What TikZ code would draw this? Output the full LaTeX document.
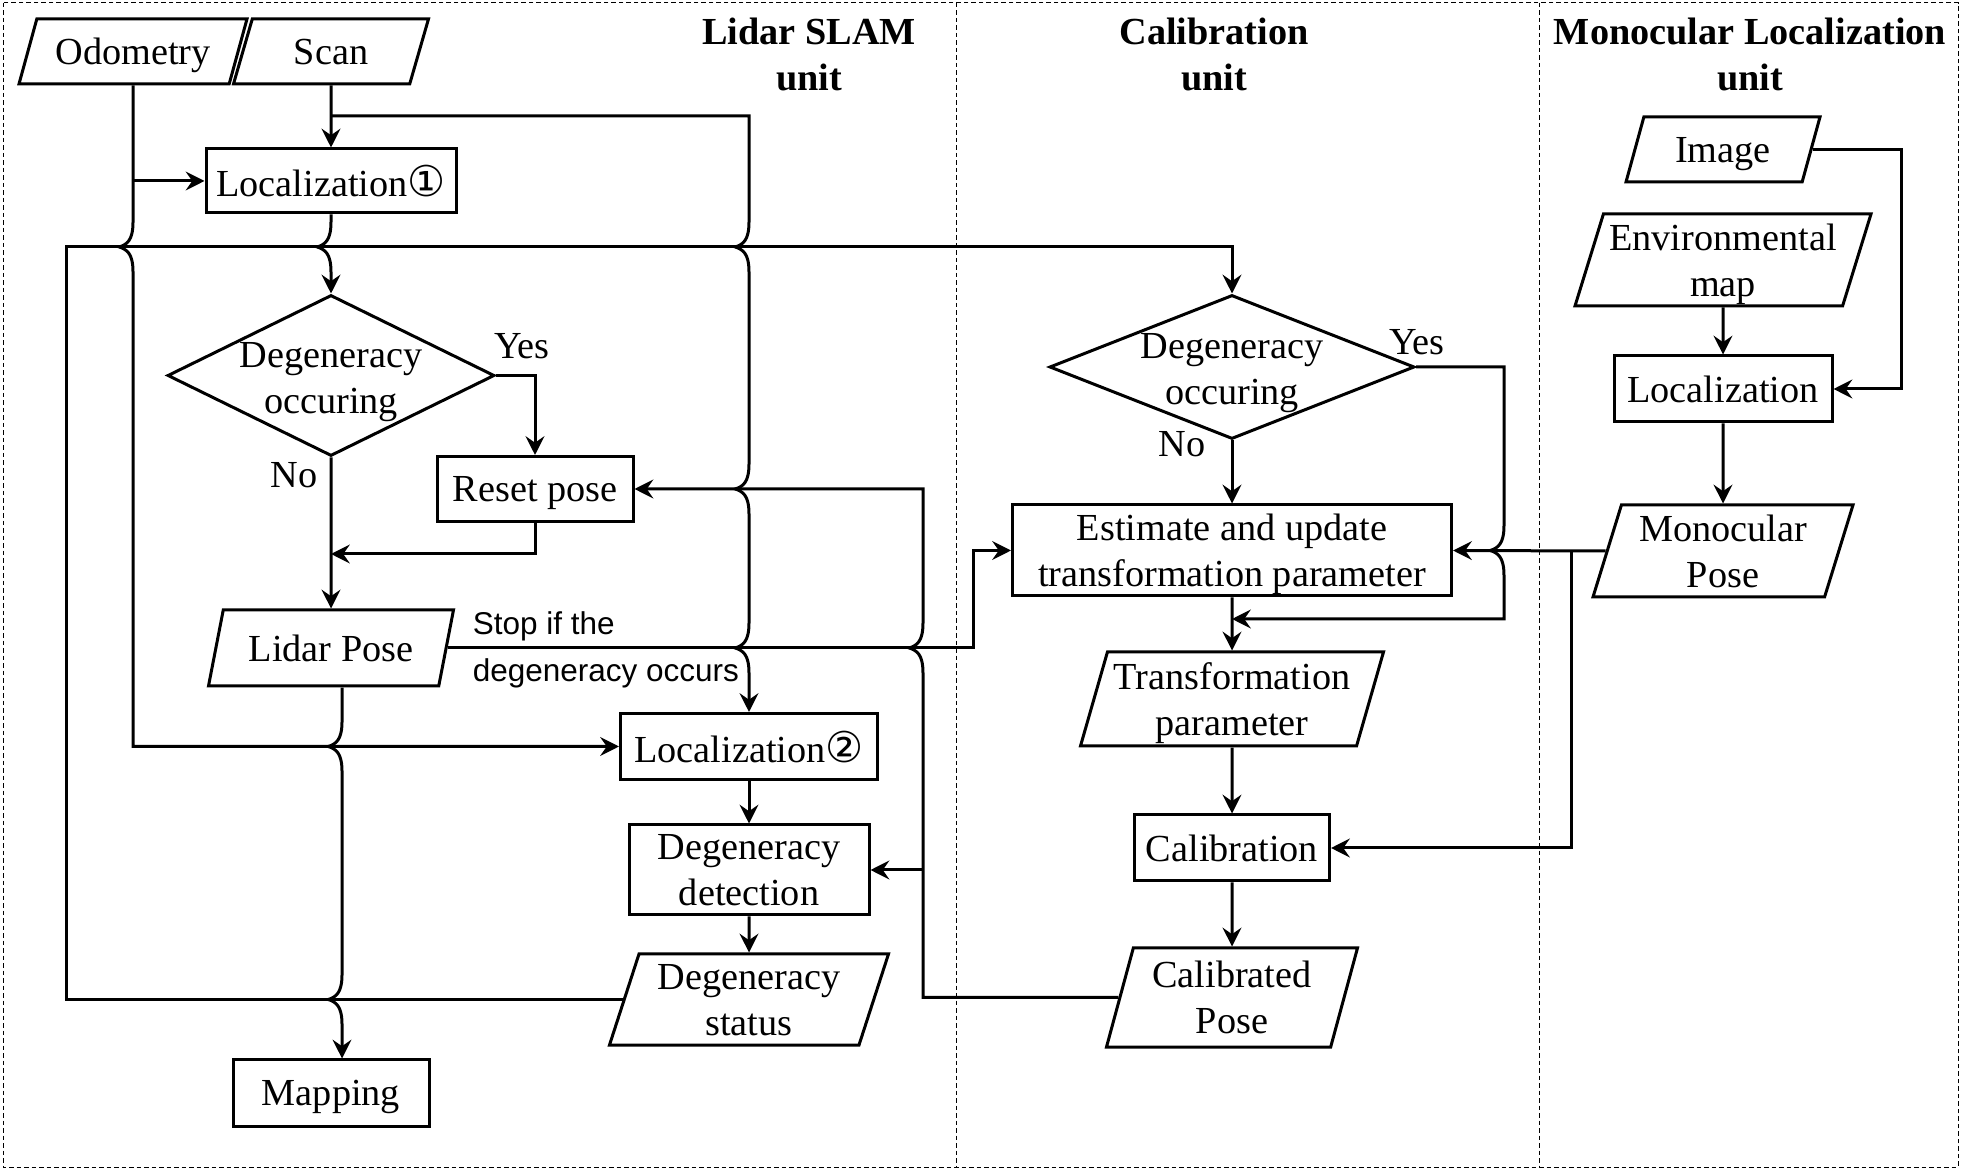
\documentclass[tikz,border=0pt]{standalone}
\usepackage{fontspec}
\setmainfont{Liberation Serif}
\newfontfamily\notefont{Liberation Sans}
\newfontfamily\circfont{DejaVu Sans}
\usetikzlibrary{shapes.geometric,arrows.meta}

\begin{document}
\begin{tikzpicture}[x=0.4pt,y=-0.4pt,
  every node/.style={font=\fontsize{15.3}{18.4}\selectfont},
  proc/.style={draw,rectangle,line width=1.2pt,inner sep=2pt,align=center,text depth=0pt},
  io/.style 2 args={draw,trapezium,trapezium left angle=#1,trapezium right angle=#2,
    trapezium stretches body,line width=1.2pt,inner xsep=0pt,inner ysep=2pt,align=center,text depth=0pt},
  dec/.style={draw,diamond,line width=1.2pt,inner sep=0pt},
  ttl/.style={align=center,font=\bfseries\fontsize{15.3}{18.4}\selectfont},
  note/.style={align=left,font=\notefont\fontsize{12.6}{18.8}\selectfont},
  flow/.style={line width=1.2pt,-{Stealth[length=7.5pt,width=7.5pt,inset=2.6pt]}},
  sep/.style={line width=0.4pt,dash pattern=on 1.8pt off 1.2pt}]
% line hops: a vertical line jumps over a horizontal one
\def\hop#1{-- ([yshift=10pt]#1) .. controls ([yshift=2.5pt]#1) and ([xshift=-2.5pt,yshift=1pt]#1) .. ([xshift=-5.5pt]#1)
  .. controls ([xshift=-2.5pt,yshift=-1pt]#1) and ([yshift=-2.5pt]#1) .. ([yshift=-10pt]#1)}
\def\hopup#1{-- ([yshift=-10pt]#1) .. controls ([yshift=-2.5pt]#1) and ([xshift=-2.5pt,yshift=-1pt]#1) .. ([xshift=-5.5pt]#1)
  .. controls ([xshift=-2.5pt,yshift=1pt]#1) and ([yshift=2.5pt]#1) .. ([yshift=10pt]#1)}
\def\circnum#1{{\circfont\fontsize{17}{18.4}\selectfont #1}}
\useasboundingbox (0,0) rectangle (1961,1170);
\draw[sep] (3,3) rectangle (1958,1167);
\draw[sep] (956,3) -- (956,1167);
\draw[sep] (1539,3) -- (1539,1167);

\node[ttl] (t1) at (809,54) {Lidar SLAM\\unit};
\node[ttl] (t2) at (1214,54) {Calibration\\unit};
\node[ttl] (t3) at (1750,54) {Monocular Localization\\unit};

\node[io={64}{116},minimum width=91.2pt,minimum height=26pt] (odo) at (133,51.5) {Odometry};
\node[io={62}{118},minimum width=78pt,minimum height=26pt] (scan) at (331,51.5) {Scan};
\node[proc,minimum width=100pt,minimum height=25.6pt] (loc1) at (331,181) {Localization\circnum{①}};
\node[dec,minimum width=130.8pt,minimum height=64.4pt,
  label={[align=center,yshift=-2.6pt]center:{Degeneracy\\occuring}}] (d1) at (331,375.5) {};
\node[proc,minimum width=78.4pt,minimum height=26pt] (reset) at (535,489) {Reset pose};
\node[io={68}{112},minimum width=98pt,minimum height=30.4pt] (lp) at (331,648) {Lidar Pose};
\node[proc,minimum width=102.8pt,minimum height=26.4pt] (loc2) at (749,746.5) {Localization\circnum{②}};
\node[proc,minimum width=96pt,minimum height=36pt] (dd) at (749,870) {Degeneracy\\detection};
\node[io={70}{110},minimum width=111.6pt,minimum height=36.4pt] (status) at (749,999.5) {Degeneracy\\status};
\node[proc,minimum width=78.4pt,minimum height=26.4pt] (map) at (331,1093) {Mapping};

\node[dec,minimum width=146pt,minimum height=57.6pt,
  label={[align=center,yshift=-2.6pt]center:{Degeneracy\\occuring}}] (d2) at (1232,367) {};
\node[proc,minimum width=175.6pt,minimum height=36.4pt] (est) at (1232,550.5) {Estimate and update\\transformation parameter};
\node[io={72}{108},minimum width=121.2pt,minimum height=37.6pt] (trans) at (1232,699) {Transformation\\parameter};
\node[proc,minimum width=78pt,minimum height=26.4pt] (calib) at (1232,848) {Calibration};
\node[io={72}{108},minimum width=100.4pt,minimum height=39.6pt] (cp) at (1232,997.5) {Calibrated\\Pose};

\node[io={63}{117},minimum width=77.6pt,minimum height=26pt] (img) at (1723,149.5) {Image};
\node[io={71}{109},minimum width=118.4pt,minimum height=36.8pt] (env) at (1723,260) {Environmental\\map};
\node[proc,minimum width=87.2pt,minimum height=26.4pt] (mloc) at (1723,389) {Localization};
\node[io={71}{109},minimum width=104pt,minimum height=36.8pt] (mpose) at (1723,551) {Monocular\\Pose};

\node (yes1) at (522,346) {Yes};
\node (no1) at (294,475) {No};
\node (yes2) at (1417,342) {Yes};
\node (no2) at (1182,444) {No};
\node[note,anchor=west] (stop) at (464,650) {Stop if the\\degeneracy occurs};

\coordinate (lt) at (66,247);
\coordinate (br1) at (749,116);
\coordinate (sx) at (973,550.5);
\coordinate (fb) at (923,870);
\coordinate (yx) at (1504,619);
\coordinate (mb) at (1571,551);
\coordinate (ix) at (1901,389);
\coordinate (rj) at (331,554);
\coordinate (lpo) at ([xshift=4.4pt]lp.south);

\draw[flow] (scan) -- (loc1);
\draw[flow] (scan.south |- br1) -- (br1) \hop{br1 |- lt} \hop{br1 |- reset.east} \hop{br1 |- lp.east} -- (loc2.north);
\draw[flow] (odo.south) \hop{odo.south |- lt} -- (odo.south |- loc2.west) -- (loc2.west);
\draw[flow] (odo.south |- loc1.west) -- (loc1.west);
\draw[flow] (loc1.south) \hop{loc1.south |- lt} -- (d1.north);
\draw[flow] (status.west) -- (lt |- status.west) -- (lt) -- (lt -| d2.north) -- (d2.north);
\draw[flow] (d1.east) -| (reset.north);
\draw[flow] (d1.south) -- (lp.north);
\draw[flow] (reset.south) |- (rj);
\draw[flow] (lp.east) -| (sx) -- (est.west);
\draw[flow] (cp.west) -- (fb |- cp.west) \hopup{fb |- lp.east} -- (fb |- reset.east) -- (reset.east);
\draw[flow] (fb) -- (dd.east);
\draw[flow] (loc2) -- (dd);
\draw[flow] (dd) -- (status);
\draw[flow] (lpo) \hop{lpo |- loc2.west} \hop{lpo |- status.west} -- (lpo |- map.north);

\draw[flow] (d2.south) -- (est.north);
\draw[flow] (d2.east) -- (yx |- d2.east) \hop{yx |- est.east} -- (yx) -- (yx -| est.south);
\draw[flow] (est) -- (trans);
\draw[flow] (trans) -- (calib);
\draw[flow] (calib) -- (cp);
\draw[flow] (mpose.west) -- (est.east);
\draw[flow] (mb) |- (calib.east);
\draw[flow] (img.east) -| (ix) -- (mloc.east);
\draw[flow] (env) -- (mloc);
\draw[flow] (mloc) -- (mpose);
\end{tikzpicture}
\end{document}
